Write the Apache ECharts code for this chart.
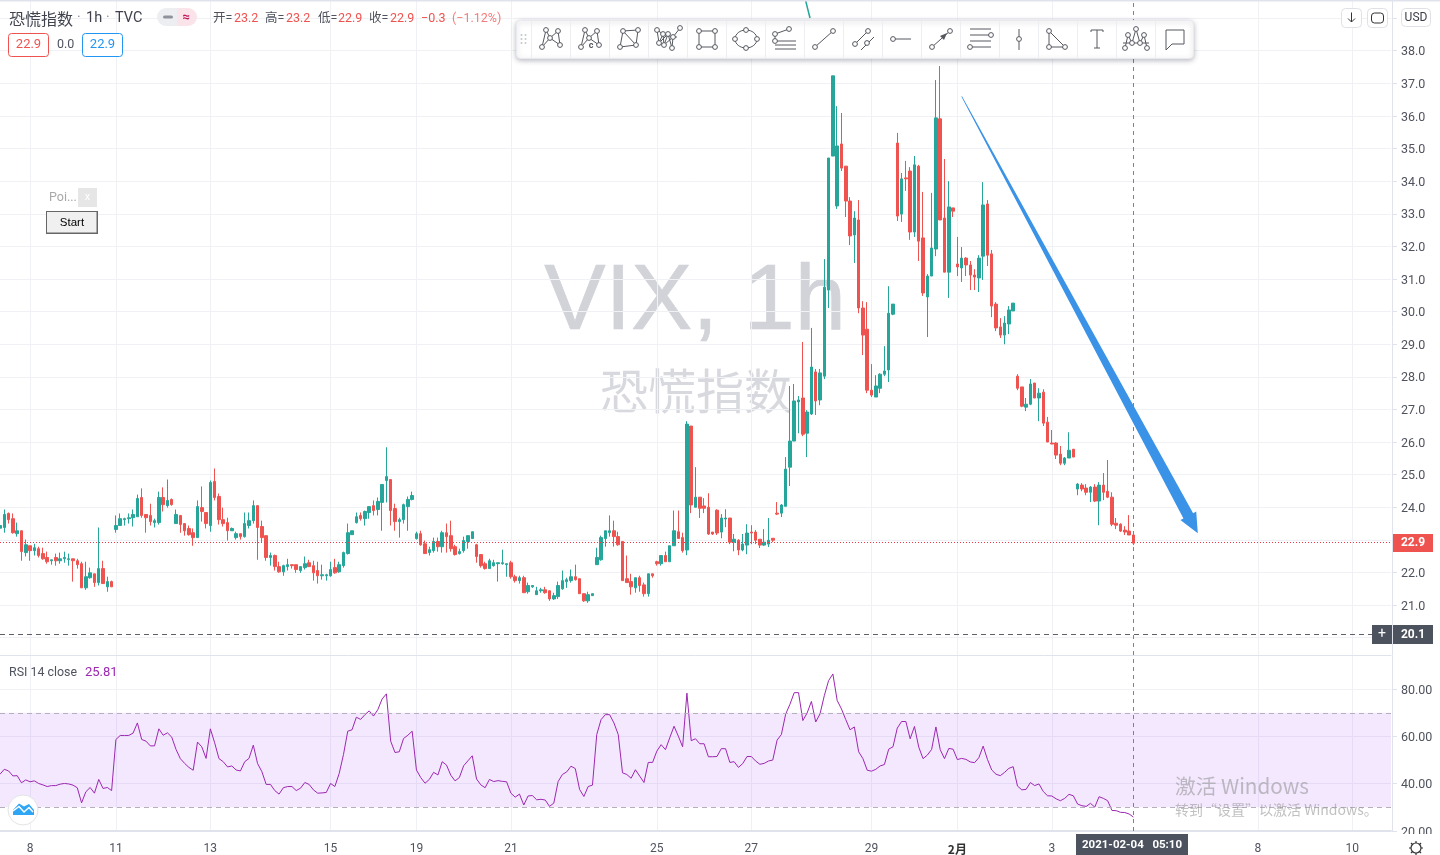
<!DOCTYPE html>
<html>
<head>
<meta charset="utf-8">
<style>html,body{margin:0;padding:0;background:#fff;overflow:hidden}#c{width:1440px;height:855px}</style>
<script src="https://cdn.jsdelivr.net/npm/echarts@6/dist/echarts.min.js"></script>
</head>
<body>
<div id="c"></div>
<script>
const opens = [
23.36,23.38,23.81,23.65,23.19,23.28,22.61,22.82,22.67,22.73,
22.58,22.46,22.36,22.46,22.36,22.42,22.40,22.42,22.36,22.27,
21.53,21.84,21.96,21.69,22.12,21.56,21.72,23.32,23.44,23.62,
23.65,23.68,23.71,24.30,23.78,23.75,23.53,23.53,24.30,24.05,
24.24,23.50,23.75,23.50,23.35,23.22,23.07,23.99,23.84,23.44,
24.79,24.33,23.62,23.53,23.28,23.07,23.19,23.10,23.44,23.59,
24.05,23.41,23.13,22.46,22.52,22.18,22.02,22.18,22.24,22.24,
22.06,22.15,22.30,22.21,22.06,21.90,21.90,21.90,22.15,22.02,
22.21,22.58,23.16,23.53,23.75,23.65,23.84,24.05,23.93,24.15,
24.82,24.85,23.96,23.56,23.62,24.02,24.24,23.04,23.19,22.88,
22.61,22.67,22.95,22.79,23.22,23.13,22.79,22.58,22.67,22.95,
23.04,22.85,22.55,22.27,22.12,22.21,22.27,22.27,22.24,22.30,
21.87,21.75,21.84,21.41,21.56,21.32,21.44,21.47,21.44,21.19,
21.26,21.50,21.72,21.75,21.87,21.81,21.35,21.13,21.29,22.24,
22.39,23.04,23.22,23.28,23.10,22.95,21.81,21.72,21.53,21.84,
21.62,21.35,21.96,22.33,22.27,22.52,22.33,22.82,23.25,23.07,
22.69,26.49,24.00,24.31,24.04,24.00,23.24,23.91,23.24,23.64,
23.67,22.93,22.99,22.69,22.84,23.24,23.24,23.02,22.84,22.87,
23.05,23.82,23.82,24.03,25.23,26.03,27.23,27.35,26.27,26.86,
28.15,27.29,28.02,30.66,34.77,33.24,35.14,34.46,33.39,32.35,
32.81,30.11,29.46,27.59,27.38,27.65,28.08,28.21,29.92,35.17,
32.99,34.10,34.31,32.44,34.46,32.26,30.45,31.09,31.92,35.91,
32.87,31.21,33.18,31.46,31.34,31.64,31.43,31.12,31.03,31.70,
33.30,31.77,30.23,29.53,29.28,29.62,30.02,28.02,27.69,27.07,
27.16,27.81,27.35,27.53,26.61,25.97,25.97,25.63,25.35,25.51,
25.78,24.56,24.68,24.59,24.46,24.62,24.19,24.68,24.49,24.31,
23.51,23.48,23.30,23.27,23.15];
const closes = [
23.44,23.78,23.62,23.22,23.28,22.64,22.85,22.67,22.76,22.52,
22.42,22.33,22.39,22.36,22.42,22.46,22.42,22.36,22.24,21.53,
21.87,21.99,21.69,22.12,21.66,21.72,21.56,23.44,23.65,23.65,
23.68,23.78,24.27,23.75,23.68,23.56,23.59,24.30,24.08,24.21,
24.08,23.78,23.47,23.28,23.16,23.07,24.02,23.87,23.50,24.76,
24.30,23.62,23.50,23.28,23.35,23.19,23.10,23.50,23.59,24.05,
23.38,23.07,22.46,22.52,22.18,22.02,22.21,22.24,22.21,22.09,
22.18,22.27,22.18,21.99,21.90,21.93,21.93,22.09,21.99,22.24,
22.61,23.22,23.28,23.71,23.65,23.87,24.02,23.90,24.18,24.70,
24.94,23.90,23.56,23.62,24.08,24.24,24.36,23.19,22.85,22.58,
22.70,22.95,22.79,23.22,23.10,22.73,22.55,22.64,22.98,23.13,
23.25,22.49,22.21,22.12,22.36,22.30,22.30,22.30,22.27,21.87,
21.75,21.84,21.38,21.60,21.60,21.44,21.47,21.38,21.19,21.29,
21.60,21.75,21.78,21.87,21.78,21.35,21.13,21.32,21.35,22.46,
23.07,23.28,23.28,23.10,22.85,21.75,21.69,21.56,21.84,21.60,
21.35,21.96,21.90,22.27,22.52,22.33,22.82,23.28,23.04,22.67,
26.55,24.07,24.31,23.97,23.97,23.18,23.18,23.21,23.67,23.67,
22.93,23.02,22.69,22.87,23.21,23.21,22.99,22.84,22.93,22.99,
22.99,23.79,24.07,25.17,26.03,27.26,27.29,26.24,26.92,28.30,
27.26,28.12,30.75,34.71,37.23,35.08,34.40,33.39,32.32,32.87,
30.11,29.28,27.59,27.44,27.72,28.08,28.18,29.95,30.23,32.93,
34.07,34.07,32.44,34.50,32.16,30.57,31.09,31.95,35.94,32.81,
31.21,33.21,33.08,31.37,31.64,31.43,31.12,31.06,31.64,33.27,
31.73,30.17,29.50,29.28,29.65,30.05,30.26,27.65,27.10,27.16,
27.78,27.35,27.50,26.58,26.00,25.94,25.60,25.35,25.51,25.75,
25.54,24.71,24.56,24.46,24.62,24.19,24.68,24.46,24.31,23.48,
23.45,23.27,23.24,23.15,22.90];
const lows = [
23.36,23.22,23.50,23.19,23.10,22.36,22.49,22.36,22.52,22.46,
22.39,22.27,22.24,22.21,22.27,22.30,22.21,21.72,22.12,21.53,
21.47,21.81,21.56,21.60,21.66,21.41,21.56,23.22,23.44,23.44,
23.50,23.41,23.71,23.68,23.22,23.44,23.38,23.47,23.87,23.99,
24.05,23.50,23.22,23.13,23.13,22.82,23.07,23.56,23.35,23.25,
24.21,23.47,23.41,22.98,23.28,23.01,23.01,23.07,23.35,23.50,
22.39,22.92,22.36,22.21,22.06,21.99,21.90,22.06,22.12,21.99,
21.99,22.09,22.18,21.75,21.66,21.78,21.75,21.87,21.96,21.99,
22.15,22.55,23.16,23.50,23.59,23.44,23.65,23.75,23.75,23.28,
24.15,23.44,23.28,23.07,23.50,23.28,24.21,23.01,22.82,22.58,
22.52,22.61,22.64,22.61,22.61,22.64,22.52,22.55,22.61,22.73,
23.04,22.30,22.15,22.09,22.12,22.18,21.72,22.24,21.87,21.81,
21.69,21.66,21.38,21.35,21.53,21.32,21.38,21.35,21.13,21.16,
21.19,21.47,21.53,21.69,21.75,21.35,21.10,21.07,21.29,22.24,
22.36,22.79,23.10,22.79,22.82,21.75,21.69,21.32,21.38,21.41,
21.26,21.26,21.84,22.21,22.21,22.33,22.33,22.82,23.04,22.61,
22.53,23.82,24.00,23.67,23.82,23.15,23.15,23.15,23.05,23.39,
22.87,22.65,22.53,22.65,22.56,22.87,22.87,22.75,22.81,22.78,
22.93,23.76,23.70,24.03,24.65,26.03,26.27,26.18,25.54,26.83,
26.83,27.13,27.93,30.11,34.77,33.15,34.31,32.90,32.04,31.49,
29.95,28.67,27.50,27.38,27.38,27.50,28.02,27.84,29.89,32.78,
32.75,33.70,32.20,32.29,31.55,30.48,29.22,31.09,31.70,32.81,
31.21,30.42,32.90,31.09,30.91,31.09,30.66,30.66,30.60,30.97,
31.40,29.83,29.40,29.19,29.00,29.31,30.02,27.59,27.07,26.95,
27.13,27.35,26.64,26.49,26.00,25.94,25.48,25.29,25.29,25.51,
25.54,24.37,24.49,24.37,24.16,24.16,23.45,24.22,24.28,23.42,
23.33,23.24,23.15,23.15,22.84];
const highs = [
23.44,23.93,23.84,23.81,23.53,23.28,23.01,22.82,22.88,22.79,
22.76,22.64,22.39,22.58,22.61,22.64,22.58,22.42,22.42,22.33,
22.33,22.15,21.96,23.38,22.36,21.87,21.75,23.75,23.81,23.68,
23.81,23.93,24.39,24.58,23.78,24.11,23.65,24.48,24.61,24.85,
24.27,23.93,23.75,23.50,23.44,23.35,24.21,24.64,23.84,24.82,
25.19,24.42,23.99,23.68,23.38,23.25,23.19,23.84,23.84,24.21,
24.05,23.59,23.13,22.61,22.55,22.33,22.24,22.42,22.24,22.24,
22.18,22.49,22.39,22.36,22.33,22.24,21.96,22.33,22.42,22.33,
22.64,23.50,23.28,23.84,23.84,23.90,24.02,24.21,24.30,24.70,
25.84,24.85,24.11,23.68,24.11,24.33,24.48,23.25,23.28,22.98,
22.79,23.07,23.07,23.28,23.50,23.59,22.85,22.73,23.10,23.13,
23.25,22.88,22.55,22.33,22.42,22.39,22.30,22.70,22.27,22.36,
21.93,21.90,21.90,21.69,21.60,21.56,21.53,21.56,21.44,21.38,
21.72,22.06,21.84,22.09,22.24,21.81,21.35,21.41,21.35,22.76,
23.13,23.28,23.75,23.59,23.25,22.95,22.52,21.96,21.84,21.90,
21.69,21.96,21.96,22.36,22.52,22.64,22.82,23.90,23.90,23.22,
26.64,26.49,25.23,24.31,24.28,24.43,23.24,23.94,23.79,23.94,
23.67,23.18,23.02,23.18,23.48,23.45,23.30,23.02,23.33,23.67,
23.05,24.16,24.10,25.54,27.72,27.78,27.41,29.07,26.98,29.50,
28.24,28.24,31.61,34.71,37.23,36.30,36.09,34.46,33.51,33.08,
33.42,30.32,30.29,28.39,28.05,28.11,28.94,30.78,30.23,35.48,
34.25,34.62,34.43,34.77,34.50,33.67,31.15,33.64,37.10,37.53,
34.68,34.00,33.18,32.29,31.98,31.67,31.55,31.30,31.73,33.97,
33.42,31.89,30.29,29.80,29.86,30.17,30.26,28.08,27.69,27.35,
27.93,27.81,27.65,27.62,26.77,26.37,26.00,25.88,25.54,26.30,
25.78,24.74,24.74,24.71,24.65,24.71,24.77,25.05,25.45,24.46,
23.67,23.51,23.42,23.76,23.15];
const rsiValues = [
44.0,46.1,45.4,43.3,43.4,40.4,41.6,40.8,41.2,40.1,
39.5,38.8,39.2,39.2,39.8,40.1,39.9,39.4,38.3,31.9,
36.6,38.4,36.0,41.8,38.0,38.4,37.1,58.7,60.4,60.4,
60.4,61.4,65.7,58.7,58.0,56.0,56.0,63.2,60.5,61.5,
59.7,54.5,50.6,48.6,46.9,45.7,57.6,55.6,50.7,63.2,
57.3,50.6,49.3,47.1,47.5,45.8,45.4,49.3,50.7,56.3,
48.5,45.1,39.7,39.7,37.1,35.6,38.3,38.8,38.8,37.1,
38.1,40.5,39.7,37.4,36.0,36.1,36.3,40.1,38.8,44.3,
52.3,62.2,62.8,68.1,67.2,69.2,70.8,68.6,71.3,75.8,
78.0,58.0,53.2,53.5,59.1,60.5,62.2,45.8,42.6,40.2,
41.8,44.8,43.7,49.3,47.9,43.6,41.2,42.6,47.6,49.7,
51.8,42.0,39.5,38.3,41.8,40.9,41.3,41.0,40.8,36.0,
34.3,35.6,31.0,34.8,35.0,33.2,33.4,33.1,30.4,31.8,
40.9,43.9,45.0,47.4,46.4,37.6,34.6,38.8,39.4,60.8,
67.1,69.2,69.2,65.7,60.8,44.6,43.9,42.3,45.9,43.2,
40.5,49.0,49.0,53.8,56.5,54.4,59.4,64.3,60.1,55.6,
78.3,58.2,59.0,56.9,56.9,51.4,51.4,51.5,54.8,54.8,
49.0,49.3,46.9,48.5,51.5,51.5,49.6,48.2,48.6,49.6,
50.0,58.4,60.8,69.4,73.6,78.5,78.5,66.7,69.9,74.8,
66.1,69.5,77.2,83.6,86.4,75.2,71.6,67.1,62.8,64.0,
53.5,50.6,45.7,45.3,46.1,47.5,48.1,54.6,55.6,63.5,
66.3,66.3,59.0,64.2,55.5,50.6,52.1,54.5,64.0,54.4,
50.6,54.9,54.6,50.2,50.7,50.3,49.2,48.9,51.0,55.9,
50.3,45.8,44.0,43.4,44.8,46.5,47.2,39.0,37.4,37.6,
40.5,39.2,39.9,36.7,34.9,34.8,33.6,32.8,33.8,35.5,
34.9,31.4,30.7,30.4,31.7,30.1,34.5,33.8,32.8,28.7,
28.6,27.9,27.8,27.2,25.9];

const barSlots = 325;
const timeTickIndexes = [7,27,49,77,97,119,153,175,203,223,245,293,315];
const timeTickLabels = ['8','11','13','15','19','21','25','27','29','2月','3','8','10'];
const priceTicks = [20,21,22,23,24,25,26,27,28,29,30,31,32,33,34,35,36,37,38,39];
const rsiTicks = [20,40,60,80];
const rsiBands = [30,70];
const lastPrice = 22.92;
const crossPrice = 20.1;
const crossIndex = 264;
const arrowStart = [224,36.6];
const arrowEnd = [279,23.2];

const UI = 'Roboto,"Noto Sans CJK SC",sans-serif';
const CJK = '"Noto Sans CJK SC",Roboto,sans-serif';
const GRAY = '#50535e', RED = '#ef5350', GREEN = '#26a69a', GRID = '#f0f1f5', EDGE = '#e0e3eb', DARK = '#4c525e', INK = '#55585f';
const categories = Array.from({length: barSlots}, (_, i) => String(i));
const tickLookup = {};
timeTickIndexes.forEach((k, i) => { tickLookup[k] = timeTickLabels[i]; });
const showTick = i => tickLookup[i] !== undefined;
const candles = opens.map((o, i) => [o, closes[i], lows[i], highs[i]]);

function txt(x, y, text, font, fill, extra) {
  return Object.assign({type: 'text', z: 100, style: Object.assign({x, y, text, font, fill, textVerticalAlign: 'middle'}, extra || {})});
}
function box(x, y, w, h, fill, stroke, r, lw) {
  return {type: 'rect', z: 100, shape: {x, y, width: w, height: h, r: r || 0}, style: {fill: fill || 'none', stroke: stroke || 'none', lineWidth: lw || 1}};
}
function poly(points, stroke, lw, z) {
  const pts = [];
  for (let i = 0; i < points.length; i += 2) pts.push([points[i], points[i + 1]]);
  return {type: 'polyline', z: z || 101, shape: {points: pts}, style: {stroke: stroke || INK, lineWidth: lw || 1, fill: 'none'}};
}

const iconSpecs = [
  {l: [[-9,8,-5,-9,-1,-1,7,-8,9,6,-1,-1,-9,8]], d: [[-9,8],[-5,-9],[-1,-1],[7,-8],[9,6]]},
  {l: [[-9,8,-5,-9,-1,-1,7,-8,9,6,-1,-1,-9,8]], d: [[-9,8],[-5,-9],[-1,-1],[7,-8],[9,6]], t: 'c'},
  {l: [[-9,8,-6,-8,9,-9,7,6,-9,8],[-6,-8,7,6]], d: [[-9,8],[-6,-8],[9,-9],[7,6]]},
  {l: [[-11,-9,-9,4,-5,-5,-4,6,0,-5,4,9,5,-2,12,-11],[-9,4,0,-5],[-4,6,5,-2],[-11,-9,-5,-5,5,-2,9,-2]], d: [[-11,-9],[-9,4],[-5,-5],[-4,6],[0,-5],[4,9],[5,-2],[12,-11]]},
  {l: [[-8,-8,8,-8,8,8,-8,8,-8,-8]], d: [[-8,-8],[8,-8],[8,8],[-8,8]]},
  {e: true, d: [[-11,0],[0,-9],[11,0],[0,9]]},
  {l: [[-10,-5,4,-10],[-10,-5,-10,2],[-10,2,11,2],[-10,6,11,6],[-10,10,11,10]], d: [[-10,-5],[4,-10],[-10,2]]},
  {l: [[-9,8,9,-8]], d: [[-9,8],[9,-8]]},
  {l: [[-8,5,5,-8],[-2,11,11,-2]], d: [[-8,5],[5,-8],[4,4]]},
  {l: [[-9,0,9,0]], d: [[-9,0]]},
  {l: [[-9,8,9,-8]], d: [[-9,8],[9,-8]], a: true},
  {l: [[-10,-10,11,-10],[-10,-4,11,-4],[-10,2,11,2],[-10,8,11,8]], d: [[11,-4],[-10,8]]},
  {l: [[0,-10,0,11]], d: [[0,0]]},
  {l: [[-9,-8,-9,8,7,8,-9,-8]], d: [[-9,-8],[-9,8],[7,8]]},
  {l: [[-6,-7,-6,-9,6,-9,6,-7],[0,-9,0,9],[-3,9,3,9]], d: []},
  {l: [[-11,9,-8,-4,-4,4,0,-10,4,4,8,-4,11,9],[-13,4,13,4]], d: [[-11,9],[-8,-4],[-4,4],[0,-10],[4,4],[8,-4],[11,9]]},
  {l: [[-9,-9,9,-9,9,5,-3,5,-9,11,-9,-9]], d: []}
];

const gfx = [];
// watermark
gfx.push({type:'text', z:0, style:{x:695, y:304, text:'VIX, 1h', font:'92px "Liberation Sans",Arial,sans-serif', fill:'#d1d3d8', stroke:'#d1d3d8', lineWidth:0.7, textAlign:'center', textVerticalAlign:'middle'}});
gfx.push({type:'text', z:0, style:{x:696, y:391, text:'恐慌指数', font:'48px '+CJK, fill:'#d8d9de', textAlign:'center', textVerticalAlign:'middle'}});
// top strip
gfx.push(box(0,0,1440,1.5,EDGE));
// teal drawing stub
gfx.push(poly([805.5,0,810,18],GREEN,1.5,90));
// header
gfx.push(txt(9,18.5,'恐慌指数','16px '+CJK,'#40434d'));
gfx.push(txt(77,18.5,'·','14px '+UI,'#8a8d96'));
gfx.push(txt(86,18,'1h','14.5px '+UI,'#40434d'));
gfx.push(txt(106,18.5,'·','14px '+UI,'#8a8d96'));
gfx.push(txt(115,18,'TVC','14.5px '+UI,'#40434d'));
gfx.push({type:'rect',z:100,shape:{x:157,y:8,width:20,height:18,r:[9,0,0,9]},style:{fill:'#eceef2'}});
gfx.push({type:'rect',z:100,shape:{x:177,y:8,width:20,height:18,r:[0,9,9,0]},style:{fill:'#fbe3ea'}});
gfx.push({type:'rect',z:101,shape:{x:163,y:15.5,width:10,height:3,r:1.5},style:{fill:'#8f929b'}});
gfx.push(txt(186,18,'≈','bold 13px '+UI,'#c2185b',{textAlign:'center'}));
const hdr = [[213,'开=',GRAY],[234,'23.2',RED],[265,'高=',GRAY],[286,'23.2',RED],[318,'低=',GRAY],[338,'22.9',RED],[369,'收=',GRAY],[390,'22.9',RED],[421,'−0.3',RED],[452,'(−1.12%)','#f47c7a']];
hdr.forEach(h => gfx.push(txt(h[0],19,h[1],'12.5px '+UI,h[2])));
gfx.push(box(8.5,33.5,40,23,'#fff',RED,3));
gfx.push(txt(28.5,45,'22.9','13px '+UI,RED,{textAlign:'center'}));
gfx.push(txt(57,45,'0.0','12.5px '+UI,GRAY));
gfx.push(box(82.5,33.5,40,23,'#fff','#2196f3',3));
gfx.push(txt(102.5,45,'22.9','13px '+UI,'#2196f3',{textAlign:'center'}));
// Poi panel
gfx.push(txt(49,198,'Poi...','12.5px '+UI,'#a8a8a8'));
gfx.push(box(78,188,19,19,'#e6e6e6'));
gfx.push(txt(87.5,197,'x','11px '+UI,'#fff',{textAlign:'center'}));
gfx.push(box(46,211,52,23,'#666'));
gfx.push(box(47,212,49.5,20.5,'#f0f0f0'));
gfx.push(txt(72,222.5,'Start','11.5px "Liberation Sans",Arial,sans-serif','#000',{textAlign:'center'}));
// top right buttons
gfx.push(box(1341.5,8.5,20,19,'#fff','#dfe1e6',4));
gfx.push(poly([1351.5,12.5,1351.5,22,1348,18.5],'#333',1));
gfx.push(poly([1351.5,22,1355,18.5],'#333',1));
gfx.push(box(1367.5,8.5,20,19,'#fff','#dfe1e6',4));
gfx.push(box(1371.5,13,12,10,'none','#333',3));
gfx.push(box(1401.5,8.5,29,18,'#fff','#dfe1e6',4));
gfx.push(txt(1416,18,'USD','12px '+UI,'#3a3d46',{textAlign:'center'}));
// toolbar
gfx.push({type:'rect',z:100,shape:{x:516.5,y:20.5,width:677,height:38,r:4},style:{fill:'#fff',stroke:'#e8eaef',lineWidth:1,shadowBlur:5,shadowColor:'rgba(60,70,90,0.35)',shadowOffsetY:1.5}});
[0,1,2].forEach(r => [0,1].forEach(c => gfx.push({type:'circle',z:101,shape:{cx:521.5+c*4,cy:35+r*4,r:1},style:{fill:'#c4c7cf'}})));
iconSpecs.forEach((ic, i) => {
  const cx = 551 + 39 * i, cy = 39;
  gfx.push(poly([cx-19.5,21,cx-19.5,58],'#eceef2',1));
  (ic.l||[]).forEach(line => gfx.push(poly(line.map((v,k)=> k%2? v+cy : v+cx),INK,1)));
  if (ic.e) gfx.push({type:'ellipse',z:101,shape:{cx,cy,rx:11,ry:9},style:{fill:'none',stroke:INK,lineWidth:1}});
  if (ic.a) gfx.push({type:'polygon',z:101,shape:{points:[[cx+6,cy-6],[cx-1,cy-3],[cx+3,cy+1]]},style:{fill:INK}});
  if (ic.t) gfx.push(txt(cx+1,cy+7,ic.t,'bold 9px '+UI,INK,{textAlign:'center'}));
  (ic.d||[]).forEach(p => gfx.push({type:'circle',z:102,shape:{cx:cx+p[0],cy:cy+p[1],r:2.4},style:{fill:'#fff',stroke:INK,lineWidth:1}}));
});
// crosshair tags
gfx.push(box(1372,625,20,19,DARK));
gfx.push(txt(1382,634.5,'+','14px '+UI,'#fff',{textAlign:'center'}));
gfx.push(box(1393,625,40,19,DARK));
gfx.push(txt(1413,634.5,'20.1','bold 12px '+UI,'#fff',{textAlign:'center'}));
gfx.push(box(1393,534,40,18,RED));
gfx.push(txt(1413,543,'22.9','bold 12px '+UI,'#fff',{textAlign:'center'}));
// RSI title
gfx.push(txt(9,672.5,'RSI 14 close','12.4px '+UI,GRAY));
gfx.push(txt(85,672.5,'25.81','13px '+UI,'#9c27b0'));
// logo
gfx.push({type:'circle',z:100,shape:{cx:23,cy:810,r:15},style:{fill:'#fff',stroke:'#e4e4e4',lineWidth:1}});
gfx.push({type:'polygon',z:101,smooth:0.25,shape:{points:[[13,815],[13,810],[19,803.5],[24,806.5],[29,804],[34,810],[34,815]]},style:{fill:'#2ea6f3'}});
gfx.push(poly([13,811,19,806.5,24,812,29,807.5,33,812],'#fff',1.5));
// windows activation
gfx.push(txt(1175,786,'激活 Windows','20.7px '+CJK,'rgba(150,150,150,0.6)'));
gfx.push(txt(1175,809.5,'转到“设置”以激活 Windows。','14px '+CJK,'rgba(150,150,150,0.6)'));
// bottom bits
gfx.push(box(1393,834,47,21,'#fff'));
gfx.push(box(1076,834,112,21,DARK));
gfx.push(txt(1132,845,'2021-02-04   05:10','bold 11.5px '+UI,'#fff',{textAlign:'center'}));
gfx.push({type:'circle',z:101,shape:{cx:1416,cy:848,r:5},style:{fill:'#fff',stroke:'#333',lineWidth:1.2}});
[[0,-7,0,-5],[0,5,0,7],[-7,0,-5,0],[5,0,7,0],[-5,-5,-3.5,-3.5],[5,5,3.5,3.5],[-5,5,-3.5,3.5],[5,-5,3.5,-3.5]].forEach(s => gfx.push(poly([1416+s[0],848+s[1],1416+s[2],848+s[3]],'#333',1.2)));

const richY = {a: {color: GRAY, fontSize: 12.5, fontFamily: UI, padding: [3, 0, 0, 0]}};
const chart = echarts.init(document.getElementById('c'), null, {renderer: 'canvas'});
chart.setOption({
  animation: false,
  backgroundColor: '#fff',
  graphic: {elements: gfx},
  grid: [
    {left: -0.9, top: 0, width: 1391.9, height: 655},
    {left: -0.9, top: 656, width: 1391.9, height: 177}
  ],
  xAxis: [
    {type: 'category', gridIndex: 0, data: categories, boundaryGap: false,
     axisLine: {show: true, lineStyle: {color: EDGE}}, axisTick: {show: false}, axisLabel: {show: false},
     splitLine: {show: true, interval: showTick, lineStyle: {color: GRID}}},
    {type: 'category', gridIndex: 1, data: categories, boundaryGap: false,
     axisLine: {show: true, lineStyle: {color: EDGE, width: 2}},
     axisTick: {show: false},
     axisLabel: {show: true, interval: showTick, color: GRAY, fontSize: 12, fontFamily: UI, margin: 12,
       formatter: (v, i) => tickLookup[i] === '2月' ? '{b|2月}' : (tickLookup[i] || ''),
       rich: {b: {fontWeight: 'bold', color: '#333', fontSize: 12, fontFamily: CJK}}},
     splitLine: {show: true, interval: showTick, lineStyle: {color: GRID}}}
  ],
  yAxis: [
    {type: 'value', gridIndex: 0, position: 'right', offset: 1, min: 19.47, max: 39.555, scale: true,
     axisLine: {show: true, lineStyle: {color: EDGE}},
     axisTick: {show: true, length: 5, customValues: priceTicks, lineStyle: {color: EDGE}},
     axisLabel: {customValues: priceTicks, margin: 9, formatter: v => '{a|' + v.toFixed(1) + '}', rich: richY},
     splitLine: {show: true, lineStyle: {color: GRID}}},
    {type: 'value', gridIndex: 1, position: 'right', offset: 1, min: 20, max: 94,
     axisLine: {show: true, lineStyle: {color: EDGE}},
     axisTick: {show: true, length: 5, customValues: rsiTicks, lineStyle: {color: EDGE}},
     axisLabel: {customValues: rsiTicks, margin: 9, showMinLabel: true, formatter: v => '{a|' + v.toFixed(2) + '}', rich: richY},
     splitLine: {show: true, lineStyle: {color: GRID}}}
  ],
  series: [
    {type: 'candlestick', name: 'VIX', xAxisIndex: 0, yAxisIndex: 0, data: candles, barWidth: 3,
     itemStyle: {color: GREEN, color0: RED, borderColor: GREEN, borderColor0: RED, borderWidth: 1},
     markLine: {silent: true, symbol: 'none', animation: false, label: {show: false},
       data: [
         {yAxis: lastPrice, lineStyle: {color: '#f23645', type: [1, 2], width: 1, opacity: 1}},
         {yAxis: crossPrice, lineStyle: {color: '#5d606b', type: [5, 4], width: 1, opacity: 1}},
         {xAxis: crossIndex, lineStyle: {color: '#7b8190', type: [4, 4], width: 1, opacity: 1}}
       ]}},
    {type: 'custom', name: 'arrow', xAxisIndex: 0, yAxisIndex: 0, clip: false, silent: true, z: 5,
     data: [[arrowStart[0], arrowStart[1]]],
     renderItem: (params, api) => {
       const a = api.coord(arrowStart), b = api.coord(arrowEnd);
       const dx = b[0]-a[0], dy = b[1]-a[1], len = Math.hypot(dx,dy), ux = dx/len, uy = dy/len, nx = -uy, ny = ux;
       const headLen = 20, headW = 9, shaftW = 5.5, tipW = 0.4;
       const bx = b[0]-ux*headLen, by = b[1]-uy*headLen;
       return {type: 'polygon', shape: {points: [
         [a[0]+nx*tipW, a[1]+ny*tipW], [bx+nx*shaftW, by+ny*shaftW], [bx+nx*headW, by+ny*headW], b, [bx-nx*headW, by-ny*headW], [bx-nx*shaftW, by-ny*shaftW], [a[0]-nx*tipW, a[1]-ny*tipW]
       ]}, style: {fill: '#3a93e6'}};
     }},
    {type: 'line', name: 'RSI', xAxisIndex: 1, yAxisIndex: 1, data: rsiValues, showSymbol: false, symbol: 'none',
     lineStyle: {color: '#9c27b0', width: 1}, z: 3,
     markArea: {silent: true, itemStyle: {color: 'rgba(150,30,255,0.10)', opacity: 1}, data: [[{yAxis: rsiBands[0]}, {yAxis: rsiBands[1]}]]},
     markLine: {silent: true, symbol: 'none', animation: false, label: {show: false},
       data: [
         {yAxis: rsiBands[1], lineStyle: {color: '#b4b1ba', type: [5, 4], width: 1, opacity: 1}},
         {yAxis: rsiBands[0], lineStyle: {color: '#b4b1ba', type: [5, 4], width: 1, opacity: 1}},
         {xAxis: crossIndex, lineStyle: {color: '#7b8190', type: [4, 4], width: 1, opacity: 1}}
       ]}}
  ]
});
</script>
</body>
</html>
